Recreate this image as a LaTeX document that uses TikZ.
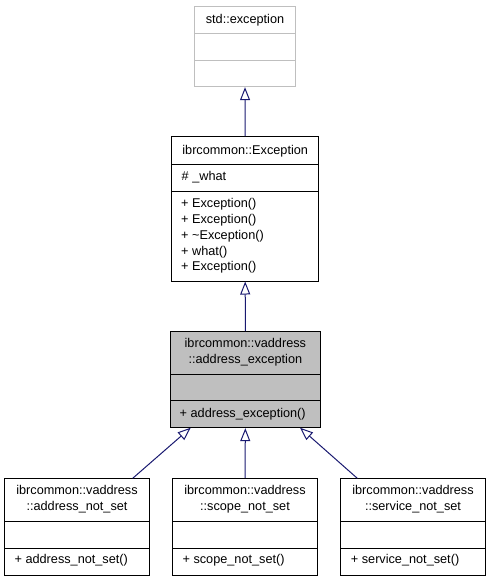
\documentclass[tikz,border=0pt]{standalone}
\usepackage{fontspec}
\setmainfont{Liberation Sans}
\usetikzlibrary{arrows.meta}
\definecolor{edgeblue}{HTML}{191970}
\definecolor{boxgray}{HTML}{BFBFBF}
\begin{document}
\begin{tikzpicture}[x=1pt,y=-1pt,
  cls/.style={draw=black, line width=1pt, inner sep=0pt, minimum width=#1},
  txt/.style={inner sep=0pt, font=\fontsize{12.7}{15.8}\selectfont, align=center},
  mem/.style={inner sep=0pt, font=\fontsize{12.7}{15.8}\selectfont, align=left, anchor=west},
  inherit/.style={draw=edgeblue, line width=1pt, -{Triangle[length=13pt,width=10pt,fill=white,line width=1pt]}}
]
\useasboundingbox (0,0) rectangle (491,581);
% std::exception
\node[cls=101.4pt, minimum height=80.7pt, draw=boxgray] (std) at (245,46.35) {};
\draw[boxgray, line width=1pt] (std.west |- 0,33.3) -- (std.east |- 0,33.3);
\draw[boxgray, line width=1pt] (std.west |- 0,60) -- (std.east |- 0,60);
\node[txt] (stdt) at (245,20) {std::exception};
% ibrcommon::Exception
\node[cls=147pt, minimum height=144.3pt] (exc) at (245.2,208.85) {};
\draw[line width=1pt] (exc.west |- 0,164) -- (exc.east |- 0,164);
\draw[line width=1pt] (exc.west |- 0,191) -- (exc.east |- 0,191);
\node[txt] (exct) at (245.2,151) {ibrcommon::Exception};
\node[mem] (exca) at (181.5,177.5) {\# \_what};
\node[mem] (excm) at (181,236) {+ Exception()\\+ Exception()\\+ \textasciitilde Exception()\\+ what()\\+ Exception()};
% address_exception
\node[cls=149.3pt, minimum height=96pt, fill=boxgray] (ae) at (245.35,379.7) {};
\draw[line width=1pt] (ae.west |- 0,374.3) -- (ae.east |- 0,374.3);
\draw[line width=1pt] (ae.west |- 0,400.7) -- (ae.east |- 0,400.7);
\node[txt] (aet) at (245.35,352.5) {ibrcommon::vaddress\\::address\_exception};
\node[mem] (aem) at (179.5,414.5) {+ address\_exception()};
% children
\node[cls=145pt, minimum height=96.7pt] (ans) at (77,526.65) {};
\node[cls=145pt, minimum height=96.7pt] (sns) at (245,526.65) {};
\node[cls=145pt, minimum height=96.7pt] (vns) at (413,526.65) {};
\foreach \b in {ans,sns,vns}{
  \draw[line width=1pt] (\b.west |- 0,521) -- (\b.east |- 0,521);
  \draw[line width=1pt] (\b.west |- 0,548.3) -- (\b.east |- 0,548.3);
}
\node[txt] (anst) at (77,499.5) {ibrcommon::vaddress\\::address\_not\_set};
\node[txt] (snst) at (245,499.5) {ibrcommon::vaddress\\::scope\_not\_set};
\node[txt] (vnst) at (413,499.5) {ibrcommon::vaddress\\::service\_not\_set};
\node[mem] (ansm) at (14.4,560.5) {+ address\_not\_set()};
\node[mem] (snsm) at (182.4,560.5) {+ scope\_not\_set()};
\node[mem] (vnsm) at (350.7,560.5) {+ service\_not\_set()};
% edges
\coordinate (aeL) at (190.7,427.7);
\coordinate (aeR) at (300,427.7);
\coordinate (ansT) at (132.7,478.3);
\coordinate (vnsT) at (357.3,478.3);
\draw[inherit] (exc.north) -- (std.south);
\draw[inherit] (ae.north) -- (exc.south);
\draw[inherit] (sns.north) -- (ae.south);
\draw[inherit] (ansT) -- (aeL);
\draw[inherit] (vnsT) -- (aeR);
\end{tikzpicture}
\end{document}
